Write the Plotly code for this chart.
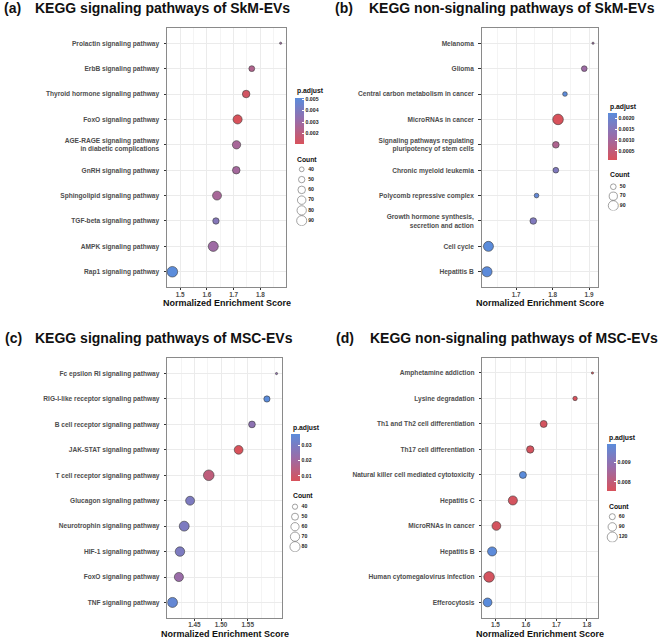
import numpy as np
import plotly.graph_objects as go

W, H = 661, 639

# ---------------- data ----------------
terms_a = ["Prolactin signaling pathway", "ErbB signaling pathway", "Thyroid hormone signaling pathway",
           "FoxO signaling pathway", "AGE-RAGE signaling pathway<br>in diabetic complications",
           "GnRH signaling pathway", "Sphingolipid signaling pathway", "TGF-beta signaling pathway",
           "AMPK signaling pathway", "Rap1 signaling pathway"]
nes_a = [1.876, 1.768, 1.747, 1.715, 1.711, 1.710, 1.638, 1.634, 1.624, 1.471]
padj_a = [0.0030, 0.0024, 0.0013, 0.00109, 0.0027, 0.0028, 0.0027, 0.0038, 0.0030, 0.00514]
count_a = [34, 46, 60, 77, 68, 60, 75, 50, 90, 98]
xticks_a = [1.5, 1.6, 1.7, 1.8]
cbticks_a = [0.002, 0.003, 0.004, 0.005]
cbtext_a = ["0.002", "0.003", "0.004", "0.005"]
sizebreaks_a = [40, 50, 60, 70, 80, 90]

terms_b = ["Melanoma", "Glioma", "Central carbon metabolism in cancer", "MicroRNAs in cancer",
           "Signaling pathways regulating<br>pluripotency of stem cells", "Chronic myeloid leukemia",
           "Polycomb repressive complex", "Growth hormone synthesis,<br>secretion and action",
           "Cell cycle", "Hepatitis B"]
nes_b = [1.911, 1.887, 1.834, 1.815, 1.809, 1.809, 1.756, 1.747, 1.624, 1.620]
padj_b = [0.0011, 0.0011, 0.0022, 0.00007, 0.0008, 0.0016, 0.0021, 0.0016, 0.00223, 0.0022]
count_b = [40, 50, 45, 98, 56, 50, 45, 56, 90, 92]
xticks_b = [1.7, 1.8, 1.9]
cbticks_b = [0.0005, 0.0010, 0.0015, 0.0020]
cbtext_b = ["0.0005", "0.0010", "0.0015", "0.0020"]
sizebreaks_b = [50, 70, 90]

terms_c = ["Fc epsilon RI signaling pathway", "RIG-I-like receptor signaling pathway",
           "B cell receptor signaling pathway", "JAK-STAT signaling pathway",
           "T cell receptor signaling pathway", "Glucagon signaling pathway",
           "Neurotrophin signaling pathway", "HIF-1 signaling pathway", "FoxO signaling pathway",
           "TNF signaling pathway"]
nes_c = [1.604, 1.586, 1.558, 1.533, 1.477, 1.442, 1.431, 1.423, 1.421, 1.409]
padj_c = [0.024, 0.0372, 0.025, 0.0067, 0.013, 0.029, 0.029, 0.029, 0.022, 0.035]
count_c = [33, 45, 48, 65, 85, 66, 77, 72, 68, 78]
xticks_c = [1.45, 1.50, 1.55]
xticktext_c = ["1.45", "1.50", "1.55"]
cbticks_c = [0.01, 0.02, 0.03]
cbtext_c = ["0.01", "0.02", "0.03"]
sizebreaks_c = [40, 50, 60, 70, 80]

terms_d = ["Amphetamine addiction", "Lysine degradation", "Th1 and Th2 cell differentiation",
           "Th17 cell differentiation", "Natural killer cell mediated cytotoxicity", "Hepatitis C",
           "MicroRNAs in cancer", "Hepatitis B", "Human cytomegalovirus infection", "Efferocytosis"]
nes_d = [1.818, 1.761, 1.658, 1.614, 1.590, 1.557, 1.503, 1.489, 1.479, 1.474]
padj_d = [0.00753, 0.00755, 0.0076, 0.0076, 0.00993, 0.0076, 0.0076, 0.0099, 0.0076, 0.00993]
count_d = [42, 48, 70, 75, 70, 100, 95, 100, 128, 95]
xticks_d = [1.5, 1.6, 1.7, 1.8]
cbticks_d = [0.008, 0.009]
cbtext_d = ["0.008", "0.009"]
sizebreaks_d = [60, 90, 120]

titles = ["KEGG signaling pathways of SkM-EVs", "KEGG non-signaling pathways of SkM-EVs",
          "KEGG signaling pathways of MSC-EVs", "KEGG non-signaling pathways of MSC-EVs"]
tags = ["(a)", "(b)", "(c)", "(d)"]

# ---------------- style ----------------
FONT = "Liberation Sans"
RED, MID, BLUE = "#D8525B", "#9A6CA8", "#5B8CDB"
CSCALE = [[0, RED], [0.5, MID], [1, BLUE]]
GRID = "#EBEBEB"
TXT = "#4D4D4D"


def px_x(p):
    return p / W


def px_y(p):
    return 1 - p / H


def diam(c, cmin, cmax, dmin=2.2, dmax=10.6):
    c = np.asarray(c, dtype=float)
    return dmin + (dmax - dmin) * np.sqrt(np.clip((c - cmin) / (cmax - cmin), 0, 1))


panels = [
    dict(terms=terms_a, nes=nes_a, padj=padj_a, count=count_a, xt=xticks_a, xtt=None,
         cbt=cbticks_a, cbtt=cbtext_a, sb=sizebreaks_a,
         box=(167, 286, 28, 287), xr=(1.451, 1.896), minor=0.05,
         cb=(295, 97.7, 46.3), leg=(301.7, 164.2, 225.8), cnt_y=159, tag_x=2, title_x=33, title_y=8,
         xlab_y=302.5),
    dict(terms=terms_b, nes=nes_b, padj=padj_b, count=count_b, xt=xticks_b, xtt=None,
         cbt=cbticks_b, cbtt=cbtext_b, sb=sizebreaks_b,
         box=(481.7, 598.3, 28, 287), xr=(1.6055, 1.9255), minor=0.05,
         cb=(607.7, 113.3, 46.7), leg=(613.3, 182.0, 210.4), cnt_y=175, tag_x=333, title_x=366.5, title_y=8,
         xlab_y=302.5),
    dict(terms=terms_c, nes=nes_c, padj=padj_c, count=count_c, xt=xticks_c, xtt=xticktext_c,
         cbt=cbticks_c, cbtt=cbtext_c, sb=sizebreaks_c,
         box=(167.3, 281.7, 358.3, 617.7), xr=(1.3993, 1.6137), minor=0.025,
         cb=(290.7, 434, 46.7), leg=(295, 501.7, 551.7), cnt_y=495.7, tag_x=3, title_x=32.5, title_y=337.5,
         xlab_y=633.5),
    dict(terms=terms_d, nes=nes_d, padj=padj_d, count=count_d, xt=xticks_d, xtt=None,
         cbt=cbticks_d, cbtt=cbtext_d, sb=sizebreaks_d,
         box=(482.3, 597.7, 357.7, 617.7), xr=(1.4568, 1.8352), minor=0.05,
         cb=(606.7, 444, 46.7), leg=(612.3, 511.6, 542.2), cnt_y=506, tag_x=334, title_x=367.5, title_y=337.5,
         xlab_y=633.5),
]

fig = go.Figure()
annotations = []
layout = {}

for i, p in enumerate(panels):
    k = i + 1
    xa = "x" if k == 1 else f"x{k}"
    ya = "y" if k == 1 else f"y{k}"
    lk = k + 4
    lxa, lya = f"x{lk}", f"y{lk}"
    cmin_c, cmax_c = min(p["count"]), max(p["count"])
    x0, x1, y0, y1 = p["box"]
    cax = "coloraxis" if k == 1 else f"coloraxis{k}"
    cbx, cby, cblen = p["cb"]

    fig.add_trace(go.Scatter(
        x=p["nes"], y=p["terms"], mode="markers", xaxis=xa, yaxis=ya, showlegend=False,
        marker=dict(size=diam(p["count"], cmin_c, cmax_c), color=p["padj"], coloraxis=cax,
                    line=dict(color="#3A3A3A", width=0.6), opacity=1),
        hoverinfo="skip"))

    layout[cax] = dict(
        cmin=min(p["padj"]), cmax=max(p["padj"]), colorscale=CSCALE,
        colorbar=dict(x=px_x(cbx), xanchor="left", y=px_y(cby), yanchor="top",
                      len=cblen, lenmode="pixels", thickness=9, thicknessmode="pixels",
                      xpad=0, ypad=0, outlinewidth=0, tickvals=p["cbt"], ticktext=p["cbtt"],
                      ticks="inside", ticklen=2, tickcolor="white", tickwidth=1,
                      tickfont=dict(family=FONT, size=5.2, color="#222", weight="bold")))

    axname_x = "xaxis" if k == 1 else f"xaxis{k}"
    axname_y = "yaxis" if k == 1 else f"yaxis{k}"
    layout[axname_x] = dict(
        domain=[px_x(x0), px_x(x1)], range=list(p["xr"]), anchor=ya,
        tickvals=p["xt"], ticktext=p["xtt"] if p["xtt"] else [str(v) for v in p["xt"]],
        showgrid=True, gridcolor=GRID, gridwidth=0.8,
        minor=dict(dtick=p["minor"], tick0=0, showgrid=True, gridcolor="#F4F4F4", gridwidth=0.5),
        zeroline=False, showline=True, mirror=True, linecolor="#8A8A8A", linewidth=1,
        ticks="outside", ticklen=2, tickcolor="#333", tickwidth=0.6, ticklabelstandoff=-1,
        tickfont=dict(family=FONT, size=6.4, color=TXT, weight="bold"), fixedrange=True)
    layout[axname_y] = dict(
        domain=[px_y(y1), px_y(y0)], anchor=xa, type="category",
        categoryorder="array", categoryarray=p["terms"], range=[9.6, -0.6],
        showgrid=True, gridcolor=GRID, gridwidth=0.8,
        zeroline=False, showline=True, mirror=True, linecolor="#8A8A8A", linewidth=1,
        ticks="outside", ticklen=2.5, tickcolor="#333", tickwidth=0.6, ticklabelstandoff=3,
        tickfont=dict(family=FONT, size=6.6, color=TXT, weight="bold"), fixedrange=True)

    # Count legend in a small axis
    lcx, ly0, ly1 = p["leg"]
    nb = len(p["sb"])
    idx = list(range(nb))
    fig.add_trace(go.Scatter(
        x=[0] * nb, y=idx, mode="markers", xaxis=lxa, yaxis=lya, showlegend=False, hoverinfo="skip",
        marker=dict(size=diam(p["sb"], cmin_c, cmax_c), color="white",
                    line=dict(color="#444", width=0.7))))
    fig.add_trace(go.Scatter(
        x=[6.5] * nb, y=idx, mode="text", text=[str(v) for v in p["sb"]], textposition="middle right",
        xaxis=lxa, yaxis=lya, showlegend=False, hoverinfo="skip",
        textfont=dict(family=FONT, size=5.2, color="#222", weight="bold")))
    layout[f"xaxis{lk}"] = dict(domain=[px_x(lcx - 10), px_x(lcx + 30)], range=[-10, 30], visible=False,
                                anchor=lya, fixedrange=True)
    layout[f"yaxis{lk}"] = dict(domain=[px_y(ly1), px_y(ly0)], range=[nb - 0.5, -0.5], visible=False,
                                anchor=lxa, fixedrange=True)

    # texts
    annotations.append(dict(text="<b>p.adjust</b>", x=px_x(cbx), y=px_y(cby - 6.5), xref="paper", yref="paper",
                            xanchor="left", yanchor="middle", showarrow=False,
                            font=dict(family=FONT, size=6.8, color="#111")))
    annotations.append(dict(text="<b>Count</b>", x=px_x(cbx), y=px_y(p["cnt_y"]), xref="paper", yref="paper",
                            xanchor="left", yanchor="middle", showarrow=False,
                            font=dict(family=FONT, size=6.8, color="#111")))
    annotations.append(dict(text="<b>Normalized Enrichment Score</b>", x=px_x((x0 + x1) / 2),
                            y=px_y(p["xlab_y"]), xref="paper", yref="paper", xanchor="center",
                            yanchor="middle", showarrow=False, font=dict(family=FONT, size=9.0, color="#111")))
    annotations.append(dict(text="<b>" + tags[i] + "</b>", x=px_x(p["tag_x"]), y=px_y(p["title_y"]),
                            xref="paper", yref="paper", xanchor="left", yanchor="middle", showarrow=False,
                            font=dict(family=FONT, size=14, color="#111")))
    annotations.append(dict(text="<b>" + titles[i] + "</b>", x=px_x(p["title_x"]), y=px_y(p["title_y"]),
                            xref="paper", yref="paper", xanchor="left", yanchor="middle", showarrow=False,
                            font=dict(family=FONT, size=14, color="#111")))

fig.update_layout(
    width=W, height=H, margin=dict(l=0, r=0, t=0, b=0), autosize=False,
    paper_bgcolor="white", plot_bgcolor="white", showlegend=False,
    annotations=annotations, **layout)

fig.write_html("out.html")
